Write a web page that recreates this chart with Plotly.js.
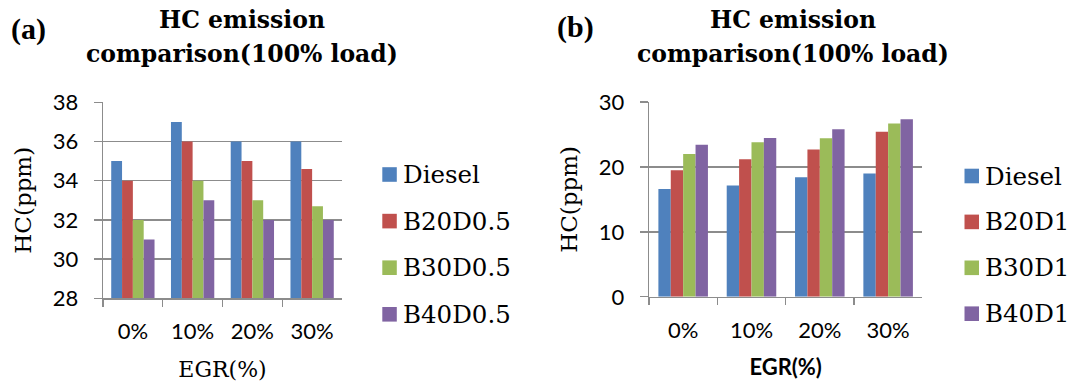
<!DOCTYPE html>
<html>
<head>
<meta charset="utf-8">
<script src="https://cdn.plot.ly/plotly-3.0.1.min.js"></script>
<style>
  html, body { margin: 0; padding: 0; background: #ffffff; }
  #chart { width: 1069px; height: 382px; }
</style>
</head>
<body>
<div id="chart"></div>
<script>
// HC emission at 100% load for different EGR rates
const egrLevels = ['0%', '10%', '20%', '30%'];

// Panel (a): blends with 0.5 additive
const seriesNamesA = ['Diesel', 'B20D0.5', 'B30D0.5', 'B40D0.5'];
const dieselA   = [35, 37, 36, 36];
const b20d05    = [34, 36, 35, 34.6];
const b30d05    = [32, 34, 33, 32.7];
const b40d05    = [31, 33, 32, 32];

// Panel (b): blends with 1 additive
const seriesNamesB = ['Diesel', 'B20D1', 'B30D1', 'B40D1'];
const dieselB   = [16.6, 17.15, 18.4, 19.0];
const b20d1     = [19.5, 21.2, 22.7, 25.4];
const b30d1     = [22.0, 23.8, 24.4, 26.7];
const b40d1     = [23.4, 24.45, 25.8, 27.35];

const yTicksA = [28, 30, 32, 34, 36, 38];
const yTicksB = [0, 10, 20, 30];

const seriesColors = ['#4F81BD', '#C0504D', '#9BBB59', '#8064A2'];

const W = 1069, H = 382;
const px = v => v / W;          // horizontal pixel -> paper
const py = v => 1 - v / H;      // vertical pixel -> paper

const serif = 'DejaVu Serif, serif';
const sans = 'Lato, Open Sans, sans-serif';
const gridGray = '#8c8c8c';

const valuesA = [dieselA, b20d05, b30d05, b40d05];
const valuesB = [dieselB, b20d1, b30d1, b40d1];

const traces = [];
valuesA.forEach((vals, i) => traces.push({
  type: 'bar', x: egrLevels, y: vals, name: seriesNamesA[i],
  marker: { color: seriesColors[i] }, xaxis: 'x', yaxis: 'y',
  showlegend: false, hoverinfo: 'x+y+name'
}));
valuesB.forEach((vals, i) => traces.push({
  type: 'bar', x: egrLevels, y: vals, name: seriesNamesB[i],
  marker: { color: seriesColors[i] }, xaxis: 'x2', yaxis: 'y2',
  showlegend: false, hoverinfo: 'x+y+name'
}));

const tickFont = { family: sans, size: 22, color: '#000' };

function xAxis(domain, titleText, titleFont) {
  return {
    domain: domain, type: 'category', range: [-0.5, 3.5],
    showline: true, linecolor: gridGray, linewidth: 1.3,
    ticks: 'outside', tickson: 'boundaries', ticklen: 7,
    tickcolor: gridGray, tickwidth: 1.3,
    tickfont: tickFont,
    ticklabelstandoff: 13,
    showgrid: false, zeroline: false, fixedrange: true,
    title: { text: titleText, font: titleFont, standoff: 18 }
  };
}
function yAxis(domain, range, tickvals, anchor) {
  return {
    domain: domain, range: range, tickvals: tickvals,
    showline: true, linecolor: gridGray, linewidth: 1.3,
    ticks: 'outside', ticklen: 8, tickcolor: gridGray, tickwidth: 1.3,
    tickfont: tickFont,
    ticklabelstandoff: 11,
    showgrid: true, gridcolor: gridGray, gridwidth: 1.3,
    zeroline: false, fixedrange: true, anchor: anchor,
    title: { text: 'HC(ppm)', font: { family: serif, size: 23, color: '#000' }, standoff: 14 }
  };
}

const layout = {
  width: W, height: H,
  margin: { l: 0, r: 0, t: 0, b: 0 },
  paper_bgcolor: '#ffffff', plot_bgcolor: '#ffffff',
  barmode: 'group', bargap: 0.275, bargroupgap: 0,
  showlegend: false,
  xaxis: xAxis([px(103), px(342)], 'EGR(%)', { family: serif, size: 22, color: '#000' }),
  yaxis: yAxis([py(298.3), py(102.3)], [28, 38], yTicksA, 'x'),
  xaxis2: Object.assign(xAxis([px(649), px(922.3)], '<b>EGR(%)</b>', { family: sans, size: 22, color: '#000' }), { anchor: 'y2' }),
  yaxis2: yAxis([py(296.8), py(102)], [0, 30], yTicksB, 'x2'),
  shapes: [],
  annotations: []
};

// Panel labels and two-line titles
function addText(text, x, y, font, xanchor) {
  layout.annotations.push({
    text: text, xref: 'paper', yref: 'paper', x: px(x), y: py(y),
    xanchor: xanchor || 'center', yanchor: 'middle', showarrow: false, font: font
  });
}
const titleFont = { family: serif, size: 23.5, color: '#000', weight: 'bold' };
const panelFont = { family: 'Liberation Serif, Times New Roman, serif', size: 30, color: '#000', weight: 'bold' };
addText('(a)', 28, 29, panelFont);
addText('(b)', 575.5, 27, panelFont);
addText('HC emission', 241.7, 20, titleFont);
addText('comparison(100% load)', 241.7, 54, titleFont);
addText('HC emission', 793, 20, titleFont);
addText('comparison(100% load)', 793, 54, titleFont);

// Legends: colour swatch plus series name
function addLegend(names, swatchLeft, textLeft, firstY, step) {
  names.forEach((name, i) => {
    const cy = firstY + step * i;
    layout.shapes.push({
      type: 'rect', xref: 'paper', yref: 'paper',
      x0: px(swatchLeft), x1: px(swatchLeft + 14.5),
      y0: py(cy + 7.3), y1: py(cy - 7.3),
      fillcolor: seriesColors[i], line: { width: 0 }
    });
    addText(name, textLeft, cy, { family: serif, size: 24.5, color: '#000' }, 'left');
  });
}
addLegend(seriesNamesA, 382.3, 401, 174.5, 46.6);
addLegend(seriesNamesB, 964.5, 983, 176, 45.9);

Plotly.newPlot('chart', traces, layout, { displayModeBar: false, staticPlot: true });
</script>
</body>
</html>
